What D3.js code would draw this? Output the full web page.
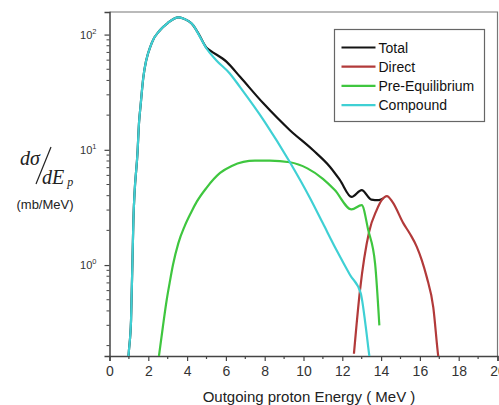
<!DOCTYPE html>
<html>
<head>
<meta charset="utf-8">
<script src="https://cdn.jsdelivr.net/npm/d3@7"></script>
<style>
  body { margin: 0; background: #fff; }
  text { font-family: "Liberation Sans", Arial, sans-serif; }
</style>
</head>
<body>
<div id="myChart"></div>
<script>
// energy (MeV) / cross section (mb/MeV)
var totalE = [0.95, 1.0, 1.11, 1.23, 1.45, 1.52, 1.6, 1.74, 2.17, 2.6, 3.0, 3.55, 3.8, 4.32, 4.6, 5.0, 5.18, 6.04, 6.73, 7.93, 9.3, 10.5, 11.37, 11.88, 12.48, 13.0, 13.5, 13.86, 14.1];
var totalV = [0.14, 0.18, 0.33, 2.4, 9.9, 17, 24, 42, 84, 109, 126, 141, 138, 120, 101, 77, 73, 58, 43, 25.3, 14.8, 9.9, 7.1, 5.46, 3.9, 4.47, 3.7, 3.66, 3.79];

var directE = [12.6, 12.91, 13.38, 13.77, 14.03, 14.3, 14.6, 15.15, 15.5, 15.84, 16.1, 16.35, 16.69, 16.95, 17.0];
var directV = [0.17, 0.6, 1.94, 3.0, 3.66, 3.97, 3.5, 2.3, 1.85, 1.44, 1.1, 0.79, 0.43, 0.16, 0.14];

var preeqE = [2.5, 2.55, 2.75, 2.95, 3.1, 3.27, 3.55, 3.88, 4.2, 4.5, 5.0, 5.7, 6.3, 6.9, 7.5, 8.27, 9.3, 10.2, 11.0, 11.6, 12.48, 13.0, 13.34, 13.69, 13.91];
var preeqV = [0.14, 0.163, 0.29, 0.5, 0.7, 1.0, 1.55, 2.19, 2.85, 3.55, 4.68, 6.3, 7.25, 7.85, 8.05, 8.05, 7.8, 6.9, 5.6, 4.5, 3.04, 3.31, 2.0, 1.03, 0.30];

var compE = [0.95, 1.0, 1.11, 1.23, 1.45, 1.52, 1.6, 1.74, 2.17, 2.6, 3.0, 3.55, 3.8, 4.32, 4.6, 5.0, 5.5, 6.2, 6.73, 8.0, 9.3, 10.34, 11.0, 11.7, 12.4, 12.95, 13.2, 13.4, 13.45];
var compV = [0.14, 0.18, 0.33, 2.4, 9.9, 17, 24, 42, 84, 109, 126, 141, 138, 120, 100, 75.7, 60, 46, 35, 17.5, 7.8, 3.8, 2.3, 1.35, 0.82, 0.57, 0.3, 0.16, 0.14];

var seriesNames = ["Total", "Direct", "Pre-Equilibrium", "Compound"];
var xTicks = [0, 2, 4, 6, 8, 10, 12, 14, 16, 18, 20];

var colors = ["#141414", "#b23a3a", "#3fc63f", "#3fd0d4"];

const W = 499, H = 405;
const margin = { top: 12, right: 1.5, bottom: 49, left: 109.5 };
const width = W - margin.left - margin.right;
const height = H - margin.top - margin.bottom;

var svg = d3.select("#myChart")
  .append("svg")
  .attr("width", W)
  .attr("height", H);

var g = svg.append("g")
  .attr("transform", "translate(" + margin.left + "," + margin.top + ")");

var x = d3.scaleLinear().domain([0, 20]).range([0, width]);
var y = d3.scaleLog().domain([0.1625, 157]).range([height, 0]);

g.append("clipPath").attr("id", "clip")
  .append("rect").attr("width", width).attr("height", height);

// frame (top + right)
g.append("path")
  .attr("d", "M0,0H" + width + "V" + height)
  .attr("fill", "none")
  .attr("stroke", "#777")
  .attr("stroke-width", 1.2);

// x axis
var xAxis = d3.axisBottom(x).tickValues(xTicks).tickSize(5).tickPadding(5);
var gx = g.append("g")
  .attr("transform", "translate(0," + height + ")")
  .call(xAxis);
gx.selectAll(".tick text").attr("font-size", 14).attr("fill", "#333")
  .style("font-family", "'Liberation Sans', Arial, sans-serif");
gx.select(".domain").attr("stroke", "#444").attr("stroke-width", 1.5);
gx.selectAll(".tick line").attr("stroke", "#444").attr("stroke-width", 1.2);
gx.selectAll(".minor").data(d3.range(1, 20, 2)).enter()
  .append("line")
  .attr("x1", d => x(d)).attr("x2", d => x(d))
  .attr("y1", 0).attr("y2", 3)
  .attr("stroke", "#444").attr("stroke-width", 1.2);

// y axis, decades labelled 10^n
var yAxis = d3.axisLeft(y).tickValues([1, 10, 100]).tickSize(5).tickFormat("");
var gy = g.append("g").call(yAxis);
gy.select(".domain").attr("stroke", "#444").attr("stroke-width", 1.5);
gy.selectAll(".tick line").attr("stroke", "#444").attr("stroke-width", 1.2);

var minor = [];
[0.1, 1, 10, 100].forEach(function(dec) {
  for (var k = 2; k <= 9; k++) {
    var v = dec * k;
    if (v >= y.domain()[0] && v <= y.domain()[1]) minor.push(v);
  }
});
gy.selectAll(".minor").data(minor).enter()
  .append("line")
  .attr("x1", -3).attr("x2", 0)
  .attr("y1", d => y(d)).attr("y2", d => y(d))
  .attr("stroke", "#444").attr("stroke-width", 1);

var yLab = g.append("g").selectAll("text").data([0, 1, 2]).enter()
  .append("text")
  .attr("x", -13)
  .attr("y", d => y(Math.pow(10, d)) + 4)
  .attr("text-anchor", "end")
  .attr("font-size", 11)
  .attr("fill", "#333");
yLab.append("tspan").text("10");
yLab.append("tspan").attr("dy", -5).attr("font-size", 7.5).text(d => d);

// curves
var line = d3.line()
  .x(d => x(d[0]))
  .y(d => y(d[1]))
  .curve(d3.curveMonotoneX);

var series = [
  d3.zip(totalE, totalV),
  d3.zip(directE, directV),
  d3.zip(preeqE, preeqV),
  d3.zip(compE, compV)
];

g.append("g").attr("clip-path", "url(#clip)")
  .selectAll("path").data(series).enter()
  .append("path")
  .attr("d", line)
  .attr("fill", "none")
  .attr("stroke", (d, i) => colors[i])
  .attr("stroke-width", 2.2)
  .attr("stroke-linejoin", "round");

// legend
var lg = g.append("g").attr("transform", "translate(" + (334.5 - margin.left) + "," + (29.5 - margin.top) + ")");
lg.append("rect")
  .attr("width", 150).attr("height", 92)
  .attr("fill", "#fff").attr("stroke", "#666").attr("stroke-width", 1.2);
var items = lg.selectAll(".item").data(seriesNames).enter()
  .append("g")
  .attr("transform", (d, i) => "translate(0," + (18 + i * 19.2) + ")");
items.append("line")
  .attr("x1", 7).attr("x2", 41)
  .attr("stroke", (d, i) => colors[i]).attr("stroke-width", 2.2);
items.append("text")
  .attr("x", 44).attr("y", 5)
  .attr("font-size", 14).attr("fill", "#111")
  .text(d => d);

// axis titles
svg.append("text")
  .attr("x", 309).attr("y", 402)
  .attr("text-anchor", "middle")
  .attr("font-size", 15).attr("fill", "#222")
  .text("Outgoing proton Energy ( MeV )");

var yt = svg.append("g").attr("fill", "#222")
  .style("font-style", "italic");
yt.append("text").attr("x", 20).attr("y", 165).attr("font-size", 20)
  .style("font-family", "'Liberation Serif', serif").text("dσ");
yt.append("line")
  .attr("x1", 51).attr("y1", 147).attr("x2", 36).attr("y2", 184)
  .attr("stroke", "#222").attr("stroke-width", 1.2);
var de = yt.append("text").attr("x", 42).attr("y", 184).attr("font-size", 20)
  .style("font-family", "'Liberation Serif', serif");
de.append("tspan").text("dE");
de.append("tspan").attr("dx", 3).attr("dy", 2).attr("font-size", 12).text("p");
svg.append("text")
  .attr("x", 45).attr("y", 209)
  .attr("text-anchor", "middle")
  .attr("font-size", 13).attr("fill", "#222")
  .text("(mb/MeV)");
</script>
</body>
</html>
